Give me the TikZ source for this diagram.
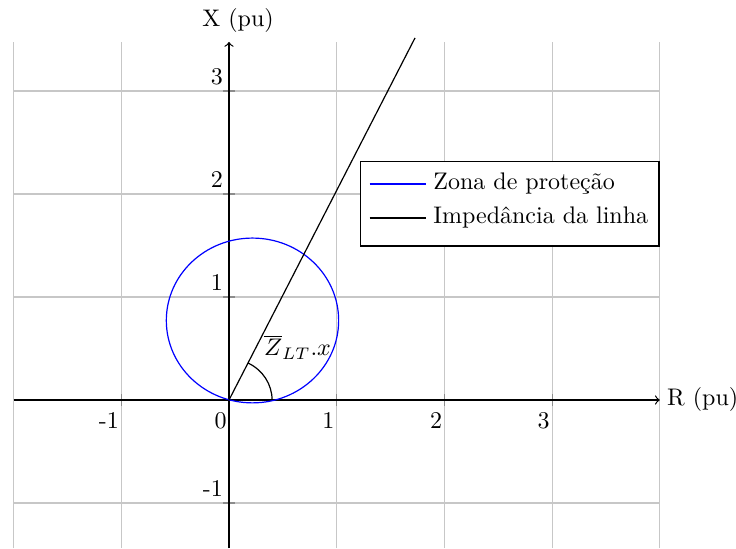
\documentclass[tikz,border=0pt]{standalone}
\usepackage{fontspec}
\begin{document}
\begin{tikzpicture}[x=44.875pt,y=42.917pt,
  gridline/.style={draw=black!22,line width=0.5pt},
  axisline/.style={draw=black,line width=0.5pt,->},
  tickmark/.style={draw=black!45,line width=0.5pt},
  xlab/.style={anchor=north east,inner sep=0pt,xshift=-0.8pt,yshift=-5.2pt},
  ylab/.style={anchor=south east,inner sep=0pt,xshift=-2.4pt,yshift=2.4pt},
  zone/.style={draw=blue,line width=0.5pt},
  impline/.style={draw=black,line width=0.5pt},
  legendbox/.style={draw=black,line width=0.5pt,fill=white,rectangle,inner sep=0pt,minimum width=2.775*44.875pt,minimum height=0.825*42.917pt}
]
\useasboundingbox (-2.1263,-1.4369) rectangle (4.7075,3.8835);
% grid
\foreach \x in {-2,...,4} \draw[gridline] (\x,-1.4369) -- (\x,3.476);
\foreach \y in {-1,...,3} \draw[gridline] (-2,\y) -- (4,\y);
% ticks
\foreach \x in {-1,1,2,3} \draw[tickmark] (\x,-0.06) -- (\x,0.06);
\foreach \y in {-1,1,2,3} \draw[tickmark] (-0.058,\y) -- (0.058,\y);
% axes
\coordinate (O) at (0,0);
\coordinate (xs) at (-2,0);
\coordinate (xe) at (4,0);
\coordinate (ys) at (0,-1.4369);
\coordinate (ye) at (0,3.476);
\draw[axisline] (xs) -- (xe);
\draw[axisline] (ys) -- (ye);
\node[anchor=west,inner sep=0pt,xshift=2.9pt] (rlab) at (xe) {R (pu)};
\node (xlab) at (0.0836,3.68) {X (pu)};
% tick labels
\node[xlab] (tx0) at (0,0) {0};
\node[xlab] (txm1) at (-1,0) {-1};
\node[xlab] (tx1) at (1,0) {1};
\node[xlab] (tx2) at (2,0) {2};
\node[xlab] (tx3) at (3,0) {3};
\node[ylab] (tym1) at (0,-1) {-1};
\node[ylab] (ty1) at (0,1) {1};
\node[ylab] (ty2) at (0,2) {2};
\node[ylab] (ty3) at (0,3) {3};
% circle
\coordinate (C) at (0.218,0.772);
\draw[zone] (C) circle[radius=0.8];
% line impedance
\coordinate (L) at (1.727,3.515);
\draw[impline] (O) -- (L);
\draw[impline] (0.4,0) arc[start angle=0,end angle=63.8,radius=0.4];
\node (zlab) at (0.636,0.515) {$\overline{Z}_{LT}.x$};
% legend
\node[legendbox,anchor=north west] (leg) at (1.212,2.325) {};
\coordinate (l1a) at (1.306,2.097);
\coordinate (l1b) at (1.830,2.097);
\coordinate (l2a) at (1.306,1.767);
\coordinate (l2b) at (1.830,1.767);
\draw[zone] (l1a) -- (l1b);
\draw[impline] (l2a) -- (l2b);
\node[anchor=west,inner sep=0pt] (leg1) at (1.894,2.097) {Zona de proteção};
\node[anchor=west,inner sep=0pt] (leg2) at (1.894,1.767) {Impedância da linha};
\end{tikzpicture}
\end{document}
